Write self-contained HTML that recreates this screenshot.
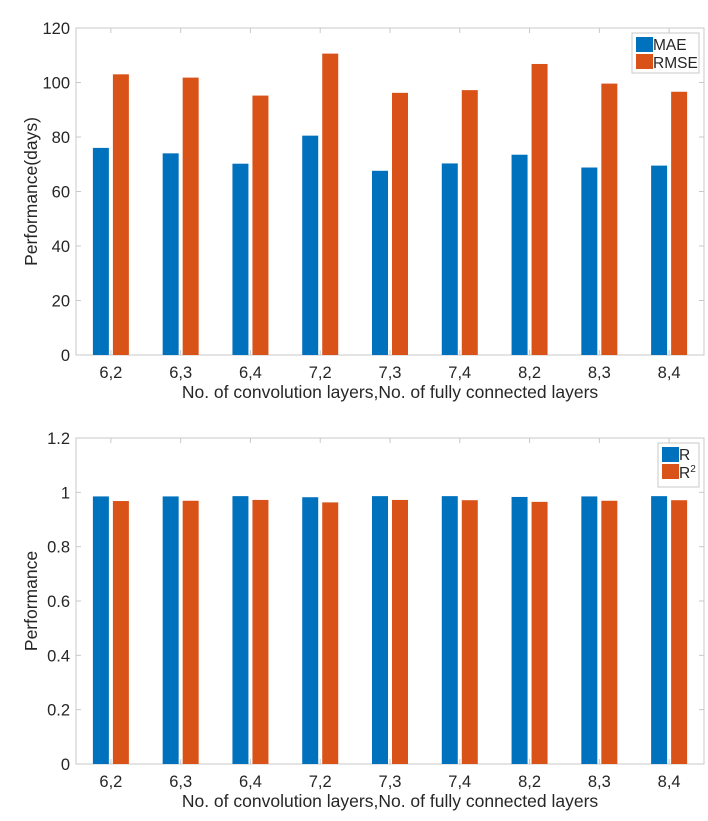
<!DOCTYPE html>
<html><head><meta charset="utf-8"><style>
body{margin:0;background:#fff}
svg text{font-family:"Liberation Sans",Arial,sans-serif;fill:#262626}
</style></head><body>
<svg id="svg" width="708" height="816" xmlns="http://www.w3.org/2000/svg"></svg>
<script>
const categories=["6,2","6,3","6,4","7,2","7,3","7,4","8,2","8,3","8,4"];
const maeValues=[76,74,70.2,80.5,67.6,70.3,73.5,68.8,69.5];
const rmseValues=[103,101.8,95.2,110.6,96.2,97.2,106.8,99.6,96.6];
const rValues=[0.985,0.985,0.986,0.982,0.986,0.986,0.983,0.985,0.986];
const r2Values=[0.968,0.969,0.972,0.963,0.972,0.971,0.965,0.969,0.971];
const topTicks=[0,20,40,60,80,100,120];
const bottomTicks=["0","0.2","0.4","0.6","0.8","1","1.2"];
const svg=document.getElementById('svg');
const NS="http://www.w3.org/2000/svg";
function mk(tag,attrs,parent){const e=document.createElementNS(NS,tag);for(const k in attrs)e.setAttribute(k,attrs[k]);(parent||svg).appendChild(e);return e;}
function panel(cfg){
  const L=76,R=704,T=cfg.top,B=cfg.bottom;
  const g=mk('g',{});
  
  
  const n=categories.length,step=(R-L)/n;
  const x=i=>L+step*(i+0.5);
  const y=v=>B-(v-cfg.min)/(cfg.max-cfg.min)*(B-T);
  const frame=mk('rect',{x:L,y:T,width:R-L,height:B-T,fill:'none',stroke:'#c8c8c8','stroke-width':1},g);
  
  
  cfg.ticks.forEach((t,i)=>{
    const v=cfg.min+i*(cfg.max-cfg.min)/(cfg.ticks.length-1);
    const yy=y(v);
    mk('line',{x1:L,x2:L+5,y1:yy,y2:yy,stroke:'#c8c8c8'},g);
    mk('line',{x1:R,x2:R-5,y1:yy,y2:yy,stroke:'#c8c8c8'},g);
    const tx=mk('text',{x:L-6,y:yy+6,'text-anchor':'end','font-size':16.5},g);
    tx.textContent=t;
    
    
  });
  categories.forEach((c,i)=>{
    mk('line',{x1:x(i),x2:x(i),y1:B,y2:B-5,stroke:'#c8c8c8'},g);
    mk('line',{x1:x(i),x2:x(i),y1:T,y2:T+5,stroke:'#c8c8c8'},g);
    const tx=mk('text',{x:x(i),y:B+23,'text-anchor':'middle','font-size':16.5},g);
    tx.textContent=c;
    
    
    const b1=mk('rect',{x:x(i)-18,y:y(cfg.s1[i]),width:16,height:B-y(cfg.s1[i]),fill:'#0072BD'},g);
    
    
    const b2=mk('rect',{x:x(i)+2,y:y(cfg.s2[i]),width:16,height:B-y(cfg.s2[i]),fill:'#D95319'},g);
    
    
  });
  const xt=mk('text',{x:(L+R)/2,y:B+43,'text-anchor':'middle','font-size':17.5},g);
  xt.textContent="No. of convolution layers,No. of fully connected layers";
  
  
  const yt=mk('text',{x:0,y:0,'text-anchor':'middle','font-size':17.5,transform:`translate(37,${(T+B)/2}) rotate(-90)`},g);
  yt.textContent=cfg.ytitle;
  
  
  const lg=mk('g',{},g);
  
  
  mk('rect',{x:cfg.lx,y:T+5,width:699-cfg.lx,height:cfg.lh,fill:'#fff',stroke:'#c8c8c8'},lg);
  mk('rect',{x:cfg.lx+4,y:T+9,width:17,height:15,fill:'#0072BD'},lg);
  mk('rect',{x:cfg.lx+4,y:T+26,width:17,height:15,fill:'#D95319'},lg);
  const l1=mk('text',{x:cfg.lx+21,y:T+22,'font-size':15.5},lg);
  l1.textContent=cfg.l1;
  
  
  const l2=mk('text',{x:cfg.lx+21,y:T+40,'font-size':15.5},lg);
  l2.innerHTML=cfg.l2;
  
  
}
panel({name:'error-chart',top:28,bottom:355,min:0,max:120,ticks:topTicks,s1:maeValues,s2:rmseValues,n1:'mae',n2:'rmse',ytitle:'Performance(days)',lx:632,lh:40,l1:'MAE',l2:'RMSE'});
panel({name:'correlation-chart',top:438,bottom:764,min:0,max:1.2,ticks:bottomTicks,s1:rValues,s2:r2Values,n1:'r',n2:'r2',ytitle:'Performance',lx:658,lh:44,l1:'R',l2:'R<tspan dy="-6" font-size="10">2</tspan>'});
</script>
</body></html>
